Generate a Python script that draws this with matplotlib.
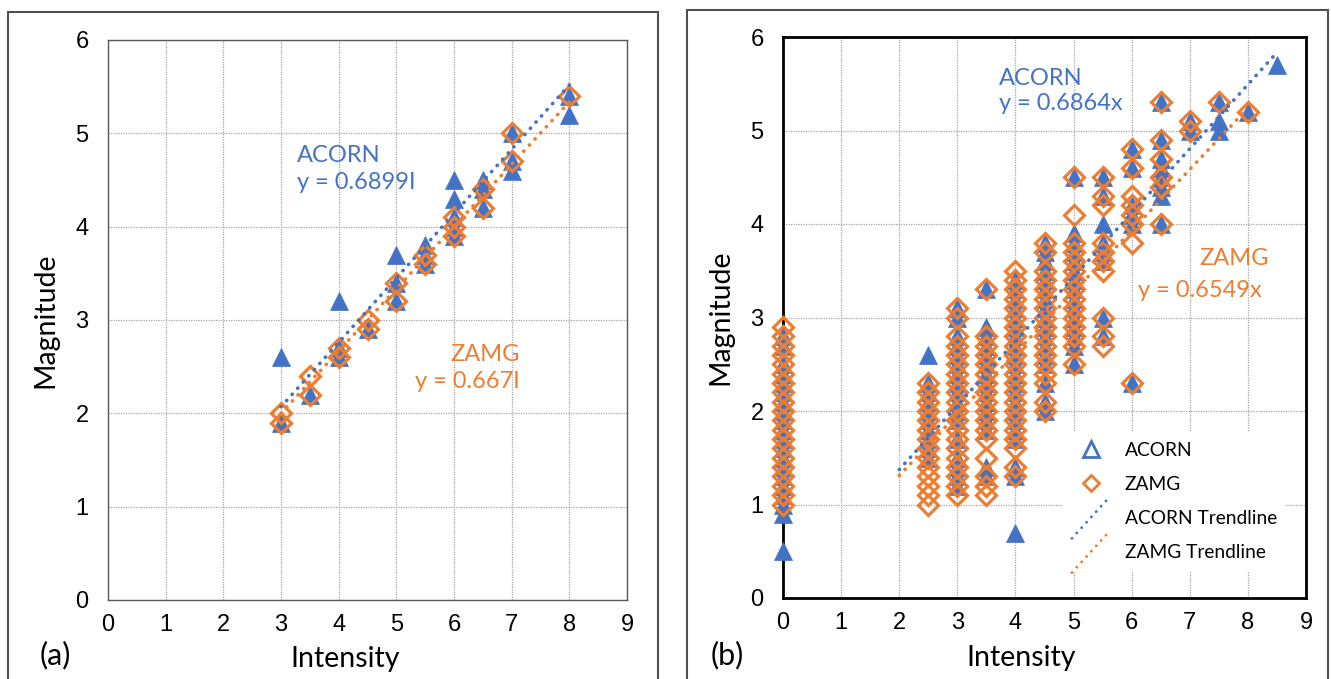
import matplotlib
matplotlib.use("Agg")
import matplotlib.pyplot as plt
from matplotlib.lines import Line2D
from matplotlib.patches import Rectangle
from matplotlib.legend_handler import HandlerBase

plt.rcParams["font.family"] = ["Lato", "DejaVu Sans"]

BLUE = "#4472C4"
ORANGE = "#ED7D31"

# ---- panel (a): one point per event, listed column by column ----
a_acorn = {3: [2.6, 1.9], 3.5: [2.2], 4: [3.2, 2.7, 2.6], 4.5: [2.9],
           5: [3.7, 3.4, 3.2], 5.5: [3.8, 3.7, 3.6], 6: [4.5, 4.3, 4.1, 4.0, 3.9],
           6.5: [4.5, 4.4, 4.2], 7: [5.0, 4.7, 4.6], 8: [5.4, 5.2]}
a_zamg = {3: [2.0, 1.9], 3.5: [2.4, 2.2], 4: [2.7, 2.6], 4.5: [3.0, 2.9],
          5: [3.4, 3.2], 5.5: [3.7, 3.6], 6: [4.1, 4.0, 3.9],
          6.5: [4.4, 4.2], 7: [5.0, 4.7], 8: [5.4]}
a_slopes = {"ACORN": 0.6899, "ZAMG": 0.667}
a_trend_range = {"ACORN": (3, 8), "ZAMG": (3, 8)}

# ---- panel (b) ----
b_acorn = {
    0: [2.8, 2.7, 2.5, 2.4, 2.3, 2.2, 2.1, 2.0, 1.9, 1.8, 1.7, 1.6, 1.5, 1.4,
        1.3, 1.2, 1.1, 1.0, 0.9, 0.5],
    2.5: [2.6, 2.3, 2.2, 2.1, 2.0, 1.9, 1.8, 1.7, 1.6, 1.5],
    3: [3.1, 3.0, 2.8, 2.7, 2.6, 2.5, 2.4, 2.3, 2.2, 2.1, 2.0, 1.9, 1.7, 1.5,
        1.4, 1.3, 1.2],
    3.5: [3.3, 2.9, 2.8, 2.7, 2.6, 2.5, 2.4, 2.3, 2.2, 2.1, 2.0, 1.9, 1.8,
          1.4, 1.3],
    4: [3.4, 3.3, 3.2, 3.1, 3.0, 2.9, 2.8, 2.7, 2.6, 2.5, 2.4, 2.3, 2.2, 2.1,
        2.0, 1.9, 1.8, 1.7, 1.4, 1.3, 0.7],
    4.5: [3.8, 3.7, 3.6, 3.5, 3.4, 3.3, 3.2, 3.1, 3.0, 2.9, 2.8, 2.7, 2.6,
          2.5, 2.3, 2.1, 2.0],
    5: [4.5, 3.9, 3.8, 3.7, 3.6, 3.5, 3.4, 3.3, 3.2, 3.1, 3.0, 2.9, 2.8, 2.7,
        2.5],
    5.5: [4.5, 4.3, 4.0, 3.8, 3.7, 3.6, 3.0, 2.8],
    6: [4.8, 4.6, 4.2, 4.1, 4.0, 2.3],
    6.5: [5.3, 4.9, 4.7, 4.6, 4.5, 4.4, 4.3, 4.0],
    7: [5.1, 5.0],
    7.5: [5.3, 5.1, 5.0],
    8: [5.2],
    8.5: [5.7],
}
b_zamg = {
    0: [2.9, 2.8, 2.7, 2.6, 2.5, 2.4, 2.3, 2.2, 2.1, 2.0, 1.9, 1.8, 1.7, 1.6,
        1.5, 1.4, 1.3, 1.2, 1.1, 1.0],
    2.5: [2.3, 2.2, 2.1, 2.0, 1.9, 1.8, 1.7, 1.6, 1.5, 1.4, 1.3, 1.2, 1.1, 1.0],
    3: [3.1, 3.0, 2.8, 2.7, 2.6, 2.5, 2.4, 2.3, 2.2, 2.1, 2.0, 1.9, 1.8, 1.7,
        1.6, 1.5, 1.4, 1.3, 1.2, 1.1],
    3.5: [3.3, 2.8, 2.7, 2.6, 2.5, 2.4, 2.3, 2.2, 2.1, 2.0, 1.9, 1.8, 1.7,
          1.5, 1.3, 1.2, 1.1],
    4: [3.5, 3.4, 3.3, 3.2, 3.1, 3.0, 2.9, 2.8, 2.7, 2.6, 2.5, 2.4, 2.3, 2.2,
        2.1, 2.0, 1.9, 1.8, 1.7, 1.6, 1.4, 1.3],
    4.5: [3.8, 3.7, 3.5, 3.4, 3.3, 3.2, 3.1, 3.0, 2.9, 2.8, 2.7, 2.6, 2.5,
          2.4, 2.3, 2.1, 2.0],
    5: [4.5, 4.1, 3.8, 3.7, 3.6, 3.5, 3.4, 3.3, 3.2, 3.1, 3.0, 2.9, 2.8, 2.7,
        2.5],
    5.5: [4.5, 4.3, 4.2, 3.8, 3.7, 3.6, 3.5, 3.0, 2.8, 2.7],
    6: [4.8, 4.6, 4.3, 4.2, 4.1, 4.0, 3.8, 2.3],
    6.5: [5.3, 4.9, 4.7, 4.5, 4.4, 4.0],
    7: [5.1, 5.0],
    7.5: [5.3],
    8: [5.2],
}
b_slopes = {"ACORN": 0.6864, "ZAMG": 0.6549}
b_trend_range = {"ACORN": (2, 8.5), "ZAMG": (2, 8)}


def flatten(cols):
    xs, ys = [], []
    for x, vals in cols.items():
        xs += [x] * len(vals)
        ys += vals
    return xs, ys


class DiagonalLine(HandlerBase):
    # Excel draws trendline legend keys as a slanted line
    def create_artists(self, legend, orig, xdescent, ydescent, width, height,
                       fontsize, trans):
        x0, x1 = -xdescent, -xdescent + width
        ym = -ydescent + height / 2
        line = Line2D([x0, x1], [ym - 0.55 * width, ym + 0.55 * width])
        line.update_from(orig)
        line.set_transform(trans)
        return [line]


def draw_panel(ax, acorn, zamg, slopes, trend_range, frame_color, frame_lw):
    ax.set_xlim(0, 9)
    ax.set_ylim(0, 6)
    ax.set_xticks(range(10))
    ax.set_yticks(range(7))
    ax.grid(True, color="#A6A6A6", linestyle=(0, (1, 1)), lw=0.9)
    ax.set_axisbelow(True)
    for s in ax.spines.values():
        s.set_color(frame_color)
        s.set_linewidth(frame_lw)
    ax.tick_params(axis="x", length=0, pad=10, labelsize=17)
    ax.tick_params(axis="y", length=0, pad=14, labelsize=17)
    for lab in ax.get_xticklabels() + ax.get_yticklabels():
        lab.set_fontfamily("Liberation Sans")
    ax.set_xlabel("Intensity", fontsize=20.5)
    ax.xaxis.set_label_coords(0.456, -0.083)
    ax.set_ylabel("Magnitude", fontsize=20.5, labelpad=12)

    x, y = flatten(acorn)
    ax.plot(x, y, "^", color=BLUE, ms=13.5, mec=BLUE, mew=0.5, zorder=3,
            clip_on=False)
    x, y = flatten(zamg)
    ax.plot(x, y, "D", mfc="none", mec=ORANGE, ms=10, mew=2.3, zorder=4,
            clip_on=False)
    for name, color in (("ACORN", BLUE), ("ZAMG", ORANGE)):
        lo, hi = trend_range[name]
        ax.plot([lo, hi], [slopes[name] * lo, slopes[name] * hi], color=color,
                lw=2.6, linestyle=(0, (0.1, 2.2)), dash_capstyle="round",
                zorder=5)


fig = plt.figure(figsize=(13.31, 6.79), dpi=100)
W, H = 1331, 679

# outer panel frames
for x0, x1, y0 in ((8, 658, 12), (687, 1328, 10)):
    fig.add_artist(Rectangle((x0 / W, -0.05), (x1 - x0) / W, 1.05 - y0 / H,
                             transform=fig.transFigure, fill=False,
                             edgecolor="#505050", lw=1.5))

ax1 = fig.add_axes([108 / W, 1 - 600 / H, 519 / W, 560 / H])
draw_panel(ax1, a_acorn, a_zamg, a_slopes, a_trend_range, "#595959", 1.0)
ax1.text(3.27, 4.62, "ACORN\ny = %.4fI" % a_slopes["ACORN"], color=BLUE,
         fontsize=17, va="center", ha="left", linespacing=1.35)
ax1.text(7.14, 2.49, "ZAMG\ny = %.3fI" % a_slopes["ZAMG"], color=ORANGE,
         fontsize=17, va="center", ha="right", multialignment="right",
         linespacing=1.35)

ax2 = fig.add_axes([783 / W, 1 - 598 / H, 523 / W, 561 / H])
draw_panel(ax2, b_acorn, b_zamg, b_slopes, b_trend_range, "black", 2.0)
ax2.text(3.71, 5.42, "ACORN\ny = %.4fx" % b_slopes["ACORN"], color=BLUE,
         fontsize=17, va="center", ha="left", linespacing=1.25)
ax2.text(8.36, 3.63, "ZAMG", color=ORANGE, fontsize=17, va="center",
         ha="right")
ax2.text(8.24, 3.29, "y = %.4fx" % b_slopes["ZAMG"], color=ORANGE,
         fontsize=17, va="center", ha="right")

handles = [
    Line2D([], [], marker="^", ls="none", mfc="white", mec=BLUE, mew=2, ms=12),
    Line2D([], [], marker="D", ls="none", mfc="white", mec=ORANGE, mew=2, ms=8),
    Line2D([], [], color=BLUE, lw=2, linestyle=(0, (0.1, 2.5)),
           dash_capstyle="round"),
    Line2D([], [], color=ORANGE, lw=2, linestyle=(0, (0.1, 2.5)),
           dash_capstyle="round"),
]
labels = ["ACORN", "ZAMG", "ACORN Trendline", "ZAMG Trendline"]
leg = ax2.legend(handles, labels, loc="upper left",
                 bbox_to_anchor=(0.534, 0.296), borderaxespad=0,
                 fontsize=13.8, frameon=True, facecolor="white",
                 edgecolor="none", framealpha=1, fancybox=False,
                 handlelength=2.0, handletextpad=0.75, labelspacing=0.9,
                 borderpad=0.5,
                 handler_map={handles[2]: DiagonalLine(),
                              handles[3]: DiagonalLine()})
leg.set_zorder(10)

fig.text(40 / W, 1 - 655 / H, "(a)", fontsize=22, va="center", ha="left")
fig.text(711 / W, 1 - 655 / H, "(b)", fontsize=22, va="center", ha="left")

fig.savefig("out.png", dpi=100)
